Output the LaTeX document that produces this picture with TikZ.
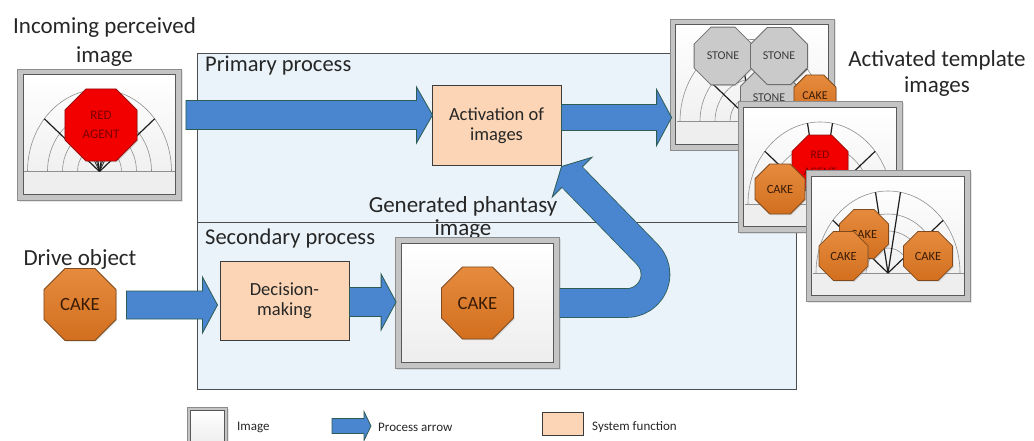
\documentclass[tikz,border=0pt]{standalone}
\usepackage{fontspec}
\setmainfont{Carlito}
\usetikzlibrary{shapes.geometric,calc,shadows}

\definecolor{panelfill}{HTML}{EAF3F9}
\definecolor{panelline}{HTML}{4D4D4D}
\definecolor{arrowfill}{HTML}{4A86CF}
\definecolor{arrowline}{HTML}{2D5C55}
\definecolor{peach}{HTML}{FBD5B5}
\definecolor{boxline}{HTML}{3C3C3C}
\definecolor{orangeT}{HTML}{E68B3E}
\definecolor{orangeB}{HTML}{D26F1F}
\definecolor{orangeline}{HTML}{7E4A1E}
\definecolor{cakeText}{HTML}{3A1C05}
\definecolor{redfill}{HTML}{F20000}
\definecolor{redline}{HTML}{9A1010}
\definecolor{redText}{HTML}{7A0000}
\definecolor{stonefill}{HTML}{CACACA}
\definecolor{stoneline}{HTML}{6E6E6E}
\definecolor{stoneText}{HTML}{3C3C3C}
\definecolor{framefill}{HTML}{C4C4C4}
\definecolor{frameline}{HTML}{8C8C8C}
\definecolor{innerline}{HTML}{595959}
\definecolor{innerbot}{HTML}{EDEDED}
\definecolor{stripfill}{HTML}{EEEEEE}
\definecolor{arcline}{HTML}{8F8F8F}
\definecolor{spokeline}{HTML}{1E1E1E}

\tikzset{
  panel/.style={draw=panelline, line width=1.1pt, fill=panelfill, inner sep=0pt,
    anchor=north west, minimum width=599},
  lbl/.style={font=\fontsize{23}{29}\selectfont, text=black!85, inner sep=0pt, align=center},
  legtext/.style={font=\fontsize{13}{15}\selectfont, text=black!85, inner sep=0pt, anchor=west},
  sysfn/.style={draw=boxline, line width=1pt, fill=peach, align=center, inner sep=0pt,
    font=\fontsize{18.5}{20}\selectfont, text=black!85},
  imgframe/.style={draw=frameline, line width=0.8pt, fill=framefill, inner sep=0pt,
    minimum width=164, minimum height=131,
    drop shadow={opacity=0.2, shadow xshift=1.5pt, shadow yshift=-1.5pt}},
  innerbox/.style={draw=innerline, line width=1pt, top color=white, bottom color=innerbot},
  parrow/.style={draw=arrowline, line width=0.8pt, fill=arrowfill, line join=miter},
  arcstyle/.style={draw=arcline, line width=0.6pt},
  spoke/.style={draw=spokeline, line width=1.2pt},
  octo/.style={regular polygon, regular polygon sides=8, minimum size=#1, inner sep=0pt,
    line width=0.8pt, align=center,
    drop shadow={opacity=0.25, shadow xshift=1.2pt, shadow yshift=-1.2pt}},
  cake/.style={octo=#1, draw=orangeline, top color=orangeT, bottom color=orangeB, text=cakeText},
  redag/.style={octo=#1, draw=redline, fill=redfill, text=redText},
  stone/.style={octo=#1, draw=stoneline, fill=stonefill, text=stoneText},
}

% horizontal block arrow: tail point, tip point, shaft half width, head half width, head length
\newcommand{\hblock}[5]{%
  \draw[parrow] let \p1=#1, \p2=#2 in
    (\x1,{\y2+#3}) -- ({\x2-#5},{\y2+#3}) -- ({\x2-#5},{\y2+#4}) -- (\x2,\y2)
    -- ({\x2-#5},{\y2-#4}) -- ({\x2-#5},{\y2-#3}) -- (\x1,{\y2-#3}) -- cycle;}

% white picture area inside an image frame
\newcommand{\frameinner}[1]{%
  \draw[innerbox] ($(#1.north west)+(6,6)$) rectangle ($(#1.south east)+(-6,-6)$);}

% half-dial template drawn inside an image frame
\newcommand{\halfdial}[1]{%
  \begin{scope}[shift={(#1.center)}]
    \fill[stripfill] (-75.5,37) rectangle (75.5,59);
    \draw[arcstyle] (-75.5,37) -- (75.5,37);
    \foreach \rx/\ry in {72/82,52/59,37/42,22/25}
      \draw[arcstyle] (-\rx,37) arc[start angle=180, end angle=0, x radius={\rx*1pt}, y radius={\ry*1pt}];
    \foreach \a in {40,80,100,140}
      \draw[spoke] (0,37) -- ({72*cos(\a)},{37-82*sin(\a)});
  \end{scope}}

\begin{document}
\begin{tikzpicture}[x=1pt,y=-1pt]
\useasboundingbox (0,0) rectangle (1034,441);

% process panels
\node[panel, minimum height=169] (prim) at (197,53) {};
\node[panel, minimum height=167] (sec) at (197,222) {};
\node[lbl, anchor=base west, font=\fontsize{22.5}{27}\selectfont] (primlbl) at (205,72) {Primary process};
\node[lbl, anchor=base west, font=\fontsize{22.5}{27}\selectfont] (seclbl) at (205,244) {Secondary process};

% titles
\node[lbl, anchor=north] (inlbl) at (104.5,17) {Incoming perceived\\image};
\node[lbl, anchor=north, font=\fontsize{23}{26}\selectfont] (actlbl) at (937,50) {Activated template\\images};
\node[lbl, anchor=base] (drivelbl) at (80,265) {Drive object};
\node[lbl, anchor=north, font=\fontsize{23}{23}\selectfont] (phlbl) at (463,196) {Generated phantasy\\image};

% system functions
\node[sysfn, minimum width=129, minimum height=80] (act) at (496.5,126) {Activation of\\images};
\node[sysfn, minimum width=129, minimum height=79] (dec) at (284.5,300.5) {Decision-\\making};

% incoming perceived image
\node[imgframe] (inimg) at (99.5,134.5) {};
\frameinner{inimg}
\halfdial{inimg}
\begin{scope}[shift={(inimg.center)}]
  \foreach \a in {62,72,108,118}
    \draw[spokeline, line width=0.7pt] (0,37) -- ({40*cos(\a)},{37-45*sin(\a)});
\end{scope}
\node[redag=78, font=\fontsize{13}{19}\selectfont] (inred) at (101,125) {RED\\AGENT};

% drive object
\node[cake=78, font=\fontsize{18.7}{20}\selectfont] (drive) at (80,304.5) {CAKE};

% generated phantasy image
\node[imgframe] (phimg) at (477.5,303) {};
\frameinner{phimg}
\node[cake=78, font=\fontsize{18.7}{20}\selectfont] (phcake) at (477.5,303) {CAKE};

% activated template images
\node[imgframe] (stimg) at (752,84.5) {};
\frameinner{stimg}
\halfdial{stimg}
\node[stone=61.7, font=\fontsize{12}{14}\selectfont] (st3) at (769,98) {STONE};
\node[stone=62.5, font=\fontsize{12}{14}\selectfont] (st1) at (723,56) {STONE};
\node[stone=61.7, font=\fontsize{12}{14}\selectfont] (st2) at (779,56) {STONE};
\node[cake=45.5, font=\fontsize{12}{14}\selectfont] (stcake) at (815,96) {CAKE};

\node[imgframe] (midimg) at (820,167) {};
\frameinner{midimg}
\halfdial{midimg}
\node[redag=60.6, font=\fontsize{11.5}{17}\selectfont] (midred) at (820,163) {RED\\AGENT};
\node[cake=54, font=\fontsize{12.5}{14}\selectfont] (midcake) at (780,189) {CAKE};

\node[imgframe] (lastimg) at (888,236) {};
\frameinner{lastimg}
\halfdial{lastimg}
\node[cake=53, font=\fontsize{12.5}{14}\selectfont] (lcake1) at (864,234) {CAKE};
\node[cake=53, font=\fontsize{12.5}{14}\selectfont] (lcake2) at (843.5,256) {CAKE};
\node[cake=53, font=\fontsize{12.5}{14}\selectfont] (lcake3) at (928,256) {CAKE};

% process arrows
\hblock{($(inimg.east)+(4,0)$)}{($(act.west)+(1,-11)$)}{14.5pt}{28pt}{16pt}
\hblock{(act.east)}{($(stimg.west)+(2,33)$)}{13pt}{28pt}{15pt}
\hblock{($(drive.east)+(10,0)$)}{($(dec.west)+(-2,4.5)$)}{14pt}{28pt}{15pt}
\hblock{(dec.east)}{($(phimg.west)+(1,-1)$)}{14.5pt}{28pt}{15pt}

% phantasy fed back to the activation of images
\coordinate (ubend) at ($(phimg.east)+(67,0)$);
\coordinate (hb) at ($(act.south east)+(10.6,10.6)$);
\draw[line width=29.6pt, draw=arrowline, line join=round]
  (phimg.east) -- (ubend) arc[start angle=-90, end angle=45, radius=28.6pt] -- (hb);
\draw[line width=28pt, draw=arrowfill, line join=round]
  (phimg.east) -- (ubend) arc[start angle=-90, end angle=45, radius=28.6pt] -- (hb);
\draw[parrow] (act.south east) -- ($(hb)+(19.8,-19.8)$) -- ($(hb)+(-19.8,19.8)$) -- cycle;
\draw[line width=28pt, draw=arrowfill] ($(hb)+(4,4)$) -- ($(hb)+(-0.6,-0.6)$);

% legend
\node[imgframe, minimum width=40, minimum height=40, anchor=north west] (lgimg) at (187,407) {};
\draw[innerbox] ($(lgimg.north west)+(3,3)$) rectangle ($(lgimg.south east)+(-3,-3)$);
\node[legtext] (lgimgtxt) at (237,427) {Image};
\coordinate (lgs) at (332,426);
\coordinate (lge) at (371,426);
\hblock{(lgs)}{(lge)}{7.5pt}{14.5pt}{7pt}
\node[legtext] (lgarrtxt) at (378,427) {Process arrow};
\node[sysfn, minimum width=41, minimum height=23, anchor=north west] (lgsys) at (542,412) {};
\node[legtext] (lgsystxt) at (592,427) {System function};
\end{tikzpicture}
\end{document}
